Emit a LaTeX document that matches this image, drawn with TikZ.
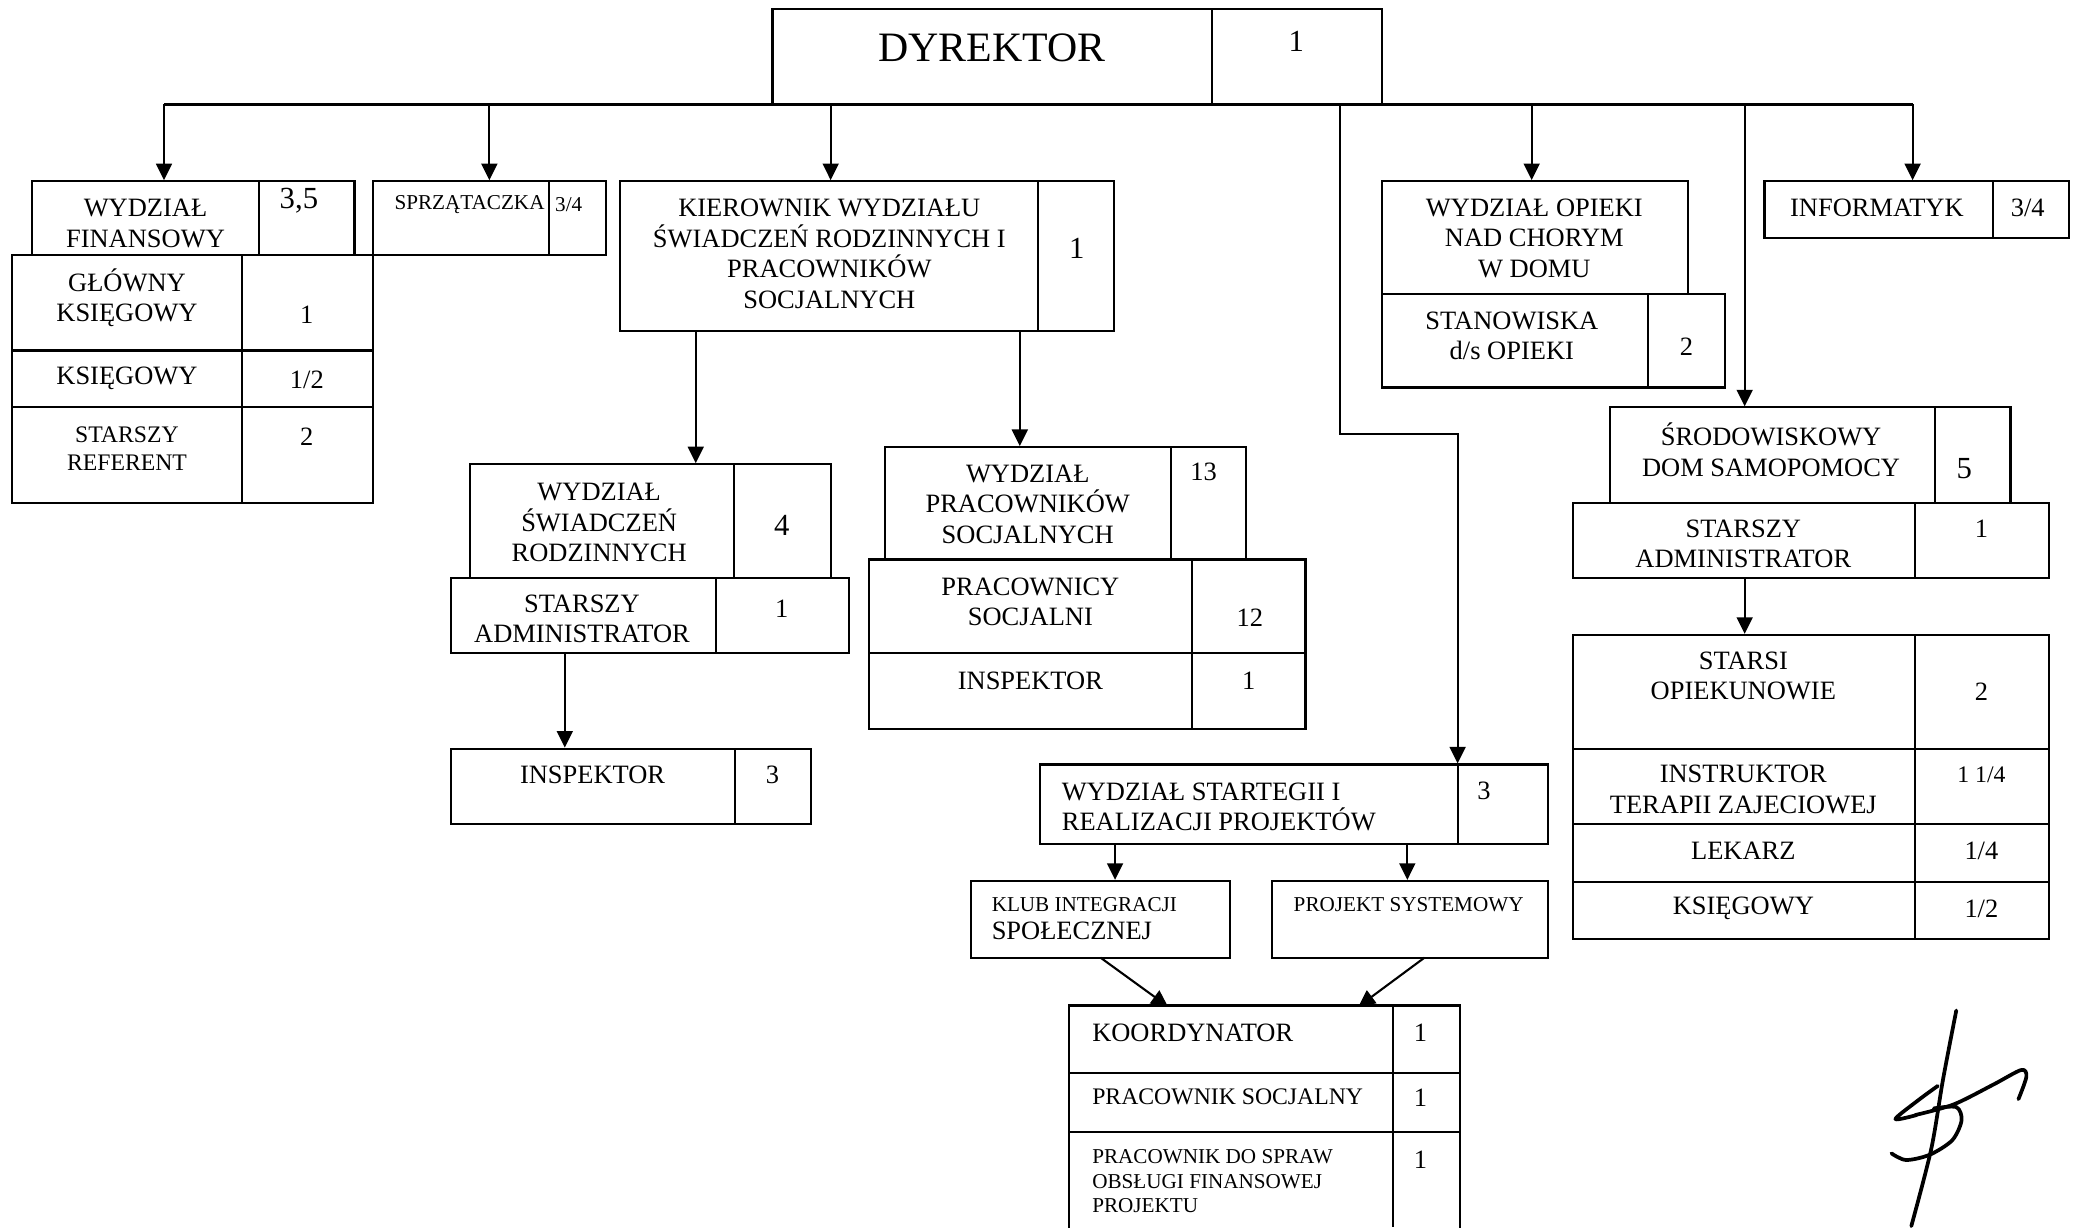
\documentclass[tikz,border=0pt]{standalone}
\usepackage{fontspec}
\setmainfont{Liberation Serif}
\usetikzlibrary{arrows.meta,fit}
\newcommand\fN{\fontsize{5.69pt}{6.55pt}\selectfont}
\newcommand\fS{\fontsize{4.55pt}{5.3pt}\selectfont}
\newcommand\fM{\fontsize{5.1pt}{6.1pt}\selectfont}
\newcommand\fL{\fontsize{6.6pt}{7.5pt}\selectfont}
\newcommand\fH{\fontsize{9pt}{10pt}\selectfont}
\begin{document}
\begin{tikzpicture}[x=0.01cm,y=-0.01cm, line width=0.45pt,
  box/.style={draw, inner sep=0pt, line width=0.45pt},
  arr/.style={-{Triangle[length=1.25mm,width=1.2mm]}},
  tx/.style={inner sep=0pt, align=center, font=\fN},
  txs/.style={tx, font=\fS},
  txm/.style={tx, font=\fM},
  txl/.style={tx, font=\fL},
  txh/.style={tx, font=\fH},
  lt/.style={anchor=west, align=left}]
\useasboundingbox (0,0) rectangle (1568,928);

% ---------- boxes ----------
\node[box, fit={(584,7) (1045,79)}] (dir) {};
\draw (916,7) -- (916,79);

\node[box, fit={(24,137) (268,193)}] (fin) {};
\draw (196,137) -- (196,193);
\node[box, fit={(9,193) (282,380)}] (fintab) {};
\draw (183,193) -- (183,380);
\draw (9,265) -- (282,265);
\draw (9,308) -- (282,308);

\node[box, fit={(282,137) (458,193)}] (sprz) {};
\draw (415,137) -- (415,193);

\node[box, fit={(469,137) (842,250)}] (kier) {};
\draw (785,137) -- (785,250);

\node[box, fit={(355,351) (628,437)}] (swr) {};
\draw (555,351) -- (555,437);
\node[box, fit={(341,437) (642,494)}] (sadmA) {};
\draw (541,437) -- (541,494);
\node[box, fit={(341,566) (613,623)}] (inspA) {};
\draw (556,566) -- (556,623);

\node[box, fit={(669,338) (942,423)}] (wps) {};
\draw (885,338) -- (885,423);
\node[box, fit={(657,423) (987,551)}] (pstab) {};
\draw (901,423) -- (901,551);
\draw (657,494) -- (987,494);

\node[box, fit={(1045,137) (1276,222)}] (opk) {};
\node[box, fit={(1045,222) (1304,293)}] (stan) {};
\draw (1246,222) -- (1246,293);

\node[box, fit={(1334,137) (1564,180)}] (info) {};
\draw (1507,137) -- (1507,180);

\node[box, fit={(1217,308) (1520,380)}] (sdom) {};
\draw (1463,308) -- (1463,380);
\node[box, fit={(1189,380) (1549,437)}] (sadmB) {};
\draw (1448,380) -- (1448,437);
\node[box, fit={(1189,480) (1549,710)}] (optab) {};
\draw (1448,480) -- (1448,710);
\draw (1189,566) -- (1549,566);
\draw (1189,623) -- (1549,623);
\draw (1189,667) -- (1549,667);

\node[box, fit={(786,578) (1170,638)}] (strat) {};
\draw (1102,578) -- (1102,638);
\node[box, fit={(734,666) (930,724)}] (klub) {};
\node[box, fit={(962,666) (1170,724)}] (proj) {};

\node[inner sep=0pt, fit={(809,761) (1103,928)}] (koord) {};
\draw (koord.south west) -- (koord.north west) -- (koord.north east) -- (koord.south east);
\draw (1053,761) -- (1053,928);
\draw (809,811) -- (1103,811);
\draw (809,856) -- (1103,856);

% ---------- texts ----------
\node[txh] (dirT) at (750,36) {DYREKTOR};
\node[txl] (dirN) at (980,31) {1};

\node[tx] (finT) at (110,169) {WYDZIAŁ\\FINANSOWY};
\node[txl] (finN) at (226,152) {3,5};
\node[tx] (gkT) at (96,225) {GŁÓWNY\\KSIĘGOWY};
\node[tx] (gkN) at (232,238) {1};
\node[tx] (ksT) at (96,286) {KSIĘGOWY};
\node[tx] (ksN) at (232,287) {1/2};
\node[txm] (srT) at (96,339) {STARSZY\\REFERENT};
\node[tx] (srN) at (232,330) {2};

\node[txs] (spT) at (355,155) {SPRZĄTACZKA};
\node[txs] (spN) at (430,155) {3/4};

\node[tx] (kiT) at (627,192) {KIEROWNIK WYDZIAŁU\\ŚWIADCZEŃ RODZINNYCH I\\PRACOWNIKÓW\\SOCJALNYCH};
\node[txl] (kiN) at (814,188) {1};

\node[tx] (swT) at (453,395) {WYDZIAŁ\\ŚWIADCZEŃ\\RODZINNYCH};
\node[txl] (swN) at (591,397) {4};
\node[tx] (saT) at (440,468) {STARSZY\\ADMINISTRATOR};
\node[tx] (saN) at (591,460) {1};
\node[tx] (iaT) at (448,586) {INSPEKTOR};
\node[tx] (iaN) at (584,586) {3};

\node[tx] (wpT) at (777,381) {WYDZIAŁ\\PRACOWNIKÓW\\SOCJALNYCH};
\node[tx] (wpN) at (910,357) {13};
\node[tx] (pcT) at (779,455) {PRACOWNICY\\SOCJALNI};
\node[tx] (pcN) at (945,467) {12};
\node[tx] (ibT) at (779,515) {INSPEKTOR};
\node[tx] (ibN) at (944,515) {1};

\node[tx] (opT) at (1160,180) {WYDZIAŁ OPIEKI\\NAD CHORYM\\W DOMU};
\node[tx] (stT) at (1143,254) {STANOWISKA\\d/s OPIEKI};
\node[tx] (stN) at (1275,262) {2};

\node[tx] (inT) at (1419,157) {INFORMATYK};
\node[tx] (inN) at (1533,157) {3/4};

\node[tx] (sdT) at (1339,340) {ŚRODOWISKOWY\\DOM SAMOPOMOCY};
\node[txl] (sdN) at (1485,354) {5};
\node[tx] (sbT) at (1318,411) {STARSZY\\ADMINISTRATOR};
\node[tx] (sbN) at (1498,400) {1};
\node[tx] (soT) at (1318,511) {STARSI\\OPIEKUNOWIE};
\node[tx] (soN) at (1498,523) {2};
\node[tx] (itT) at (1318,597) {INSTRUKTOR\\TERAPII ZAJECIOWEJ};
\node[txm] (itN) at (1498,586) {1 1/4};
\node[tx] (leT) at (1318,643) {LEKARZ};
\node[tx] (leN) at (1498,643) {1/4};
\node[tx] (kgT) at (1318,687) {KSIĘGOWY};
\node[tx] (kgN) at (1498,687) {1/2};

\node[tx, lt] (srtT) at (802,610) {WYDZIAŁ STARTEGII I\\REALIZACJI PROJEKTÓW};
\node[tx] (srtN) at (1122,598) {3};
\node[txs, lt] (klT) at (749,684) {KLUB INTEGRACJI};
\node[tx, lt] (klT2) at (749,704) {SPOŁECZNEJ};
\node[txs] (prT) at (1065,684) {PROJEKT SYSTEMOWY};

\node[tx, lt] (koT) at (825,781) {KOORDYNATOR};
\node[tx] (koN) at (1074,781) {1};
\node[txm, lt] (psT) at (825,829) {PRACOWNIK SOCJALNY};
\node[tx] (psN) at (1074,830) {1};
\node[txs, lt] (pfT) at (825,893) {PRACOWNIK DO SPRAW\\OBSŁUGI FINANSOWEJ\\PROJEKTU};
\node[tx] (pfN) at (1074,877) {1};

% ---------- connectors ----------
\coordinate (busL) at (124,79);
\coordinate (busR) at (1446,79);
\draw (busL) -- (busR);
\coordinate (b2) at (370,79);
\coordinate (b3) at (628,79);
\coordinate (b4) at (1013,79);
\coordinate (b5) at (1158,79);
\coordinate (b6) at (1319,79);
\draw[arr] (busL) -- (busL |- fin.north);
\draw[arr] (b2) -- (b2 |- sprz.north);
\draw[arr] (b3) -- (b3 |- kier.north);
\draw[arr] (b5) -- (b5 |- opk.north);
\draw[arr] (b6) -- (b6 |- sdom.north);
\draw[arr] (busR) -- (busR |- info.north);
\coordinate (e2) at (1102,328);
\draw[arr] (b4) |- (e2) -- (e2 |- strat.north);

\coordinate (k1) at (526,250);
\coordinate (k2) at (771,250);
\draw[arr] (k1) -- (k1 |- swr.north);
\draw[arr] (k2) -- (k2 |- wps.north);
\coordinate (a1) at (427,494);
\draw[arr] (a1) -- (a1 |- inspA.north);
\coordinate (a2) at (1319,437);
\draw[arr] (a2) -- (a2 |- optab.north);
\coordinate (s1) at (843,638);
\coordinate (s2) at (1064,638);
\draw[arr] (s1) -- (s1 |- klub.north);
\draw[arr] (s2) -- (s2 |- proj.north);
\coordinate (d1) at (832,724);
\coordinate (d2) at (883,761);
\coordinate (d3) at (1077,724);
\coordinate (d4) at (1027,761);
\draw[arr] (d1) -- (d2);
\draw[arr] (d3) -- (d4);

% ---------- signature ----------
\begin{scope}[line width=0.8pt, line cap=round, line join=round]
\draw plot[smooth] coordinates {(1479,764) (1469,816) (1460,869) (1445,927)};
\draw plot[smooth] coordinates {(1465,821) (1450,832) (1433,846) (1449,843)};
\draw plot[smooth] coordinates {(1448,843) (1477,835) (1507,820) (1528,809) (1532,814) (1526,831)};
\draw plot[smooth] coordinates {(1462,838) (1479,837) (1483,847) (1476,862) (1459,873) (1441,877) (1430,872)};
\end{scope}
\end{tikzpicture}
\end{document}
